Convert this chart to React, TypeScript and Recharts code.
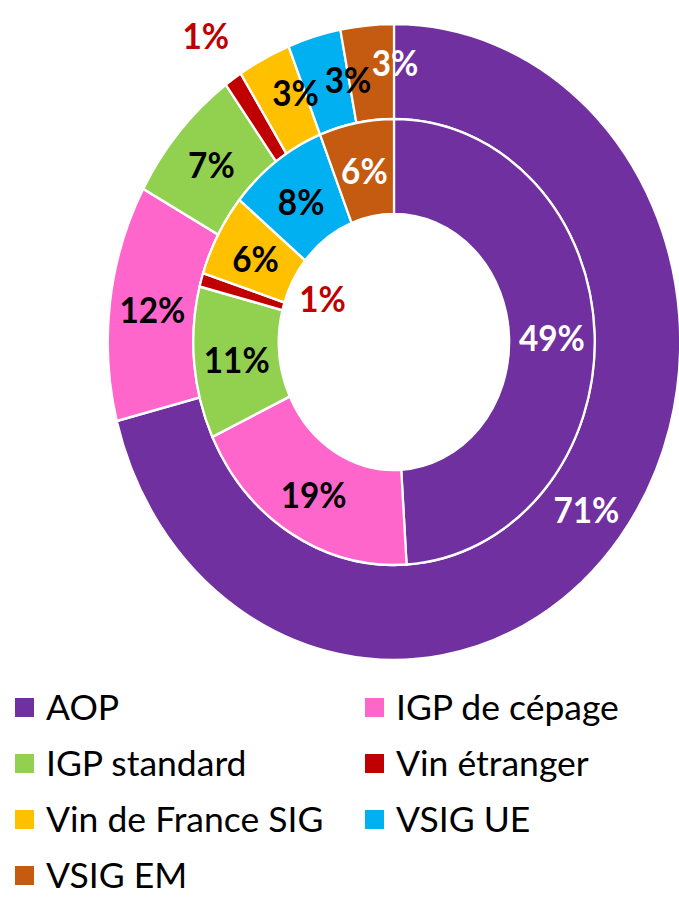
import { PieChart, Pie, Cell } from "recharts";

const categories = ["AOP", "IGP de cépage", "IGP standard", "Vin étranger", "Vin de France SIG", "VSIG UE", "VSIG EM"];
const innerValues = [49, 19, 11, 1, 6, 8, 6];
const outerValues = [71, 12, 7, 1, 3, 3, 3];
const colors = ["#7030A0", "#FF66CC", "#92D050", "#C00000", "#FFC000", "#00B0F0", "#C55A11"];
const labelColors = ["#fff", "#000", "#000", "#C00000", "#000", "#000", "#fff"];

// the original picture is squeezed horizontally
const SX = 0.9;
const FONT = "Lato, 'Open Sans', sans-serif";

// small nudges (screen px) to sit labels where Excel put them
const NUDGE: Record<string, Record<number, [number, number]>> = {
  inner: { 3: [8, -19] },
  outer: { 4: [12, -10], 5: [22, -4], 6: [24, -11] },
};

const innerData = categories.map((name, i) => ({ name, value: innerValues[i] }));
const outerData = categories.map((name, i) => ({ name, value: outerValues[i] }));

const makeLabel = (ring: "inner" | "outer") => (props: any) => {
  const { cx, cy, midAngle, innerRadius, outerRadius, index, value } = props;
  let r = (innerRadius + outerRadius) / 2;
  if (index === 3) r = ring === "outer" ? outerRadius + 54 : innerRadius - 36;
  const rad = (-midAngle * Math.PI) / 180;
  const [nx, ny] = NUDGE[ring][index] || [0, 0];
  const x = cx + r * Math.cos(rad) + nx / SX;
  const y = cy + r * Math.sin(rad) + ny;
  return (
    <text x={x} y={y} fill={labelColors[index]} textAnchor="middle" dominantBaseline="central"
      fontFamily={FONT} fontWeight={700} fontSize={37}>
      {value}%
    </text>
  );
};

export default function App() {
  return (
    <div style={{ position: "absolute", left: 0, top: 0, width: 679, height: 898, overflow: "hidden", background: "#fff" }}>
      <div style={{ transform: `scaleX(${SX})`, transformOrigin: "0 0", width: 760 }}>
        <PieChart width={760} height={680} margin={{ top: 0, right: 0, bottom: 0, left: 0 }}>
          <Pie data={outerData} dataKey="value" cx={394 / SX} cy={342} innerRadius={223} outerRadius={318}
            startAngle={90} endAngle={-270} stroke="#fff" strokeWidth={2.5}
            label={makeLabel("outer")} labelLine={false} isAnimationActive={false}>
            {outerData.map((d, i) => <Cell key={d.name} fill={colors[i]} />)}
          </Pie>
          <Pie data={innerData} dataKey="value" cx={394 / SX} cy={342} innerRadius={128} outerRadius={223}
            startAngle={90} endAngle={-270} stroke="#fff" strokeWidth={2.5}
            label={makeLabel("inner")} labelLine={false} isAnimationActive={false}>
            {innerData.map((d, i) => <Cell key={d.name} fill={colors[i]} />)}
          </Pie>
        </PieChart>
      </div>
      {categories.map((name, i) => {
        const col = i % 2;
        const row = Math.floor(i / 2);
        return (
          <div key={name} style={{ position: "absolute", left: col ? 365 : 15, top: 688 + row * 56, height: 38,
            display: "flex", alignItems: "center", fontFamily: FONT, fontSize: 35.5, lineHeight: 1, color: "#000", whiteSpace: "nowrap" }}>
            <span style={{ display: "inline-block", width: 19, height: 19, background: colors[i], marginRight: 12 }} />
            {name}
          </div>
        );
      })}
    </div>
  );
}
